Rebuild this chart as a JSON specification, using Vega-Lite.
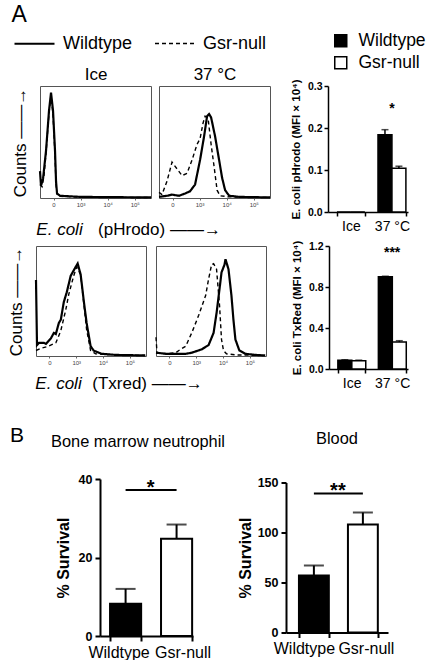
{
  "$schema": "https://vega.github.io/schema/vega-lite/v6.json",
  "padding": {"left": 6, "top": 3, "right": 0, "bottom": 0},
  "config": {
    "font": "Liberation Sans",
    "view": {"stroke": null},
    "axis": {"grid": false, "domainColor": "black", "tickColor": "black", "labelColor": "black", "titleColor": "black"},
    "title": {"color": "black"},
    "legend": {"labelColor": "black"}
  },
  "title": {"text": "A", "anchor": "start", "frame": "bounds", "fontSize": 23, "fontWeight": "normal", "dx": 5, "offset": -5},
  "datasets": {
    "hist": [
      {"panel": "pHrodo Ice", "genotype": "Wildtype", "ch": 1.5, "count": 0.24},
      {"panel": "pHrodo Ice", "genotype": "Wildtype", "ch": 1.537, "count": 0.11},
      {"panel": "pHrodo Ice", "genotype": "Wildtype", "ch": 1.611, "count": 0.17},
      {"panel": "pHrodo Ice", "genotype": "Wildtype", "ch": 1.722, "count": 0.42},
      {"panel": "pHrodo Ice", "genotype": "Wildtype", "ch": 1.833, "count": 0.78},
      {"panel": "pHrodo Ice", "genotype": "Wildtype", "ch": 1.907, "count": 0.94},
      {"panel": "pHrodo Ice", "genotype": "Wildtype", "ch": 1.981, "count": 0.78},
      {"panel": "pHrodo Ice", "genotype": "Wildtype", "ch": 2.055, "count": 0.42},
      {"panel": "pHrodo Ice", "genotype": "Wildtype", "ch": 2.092, "count": 0.15},
      {"panel": "pHrodo Ice", "genotype": "Wildtype", "ch": 2.129, "count": 0.04},
      {"panel": "pHrodo Ice", "genotype": "Wildtype", "ch": 2.24, "count": 0.02},
      {"panel": "pHrodo Ice", "genotype": "Wildtype", "ch": 2.98, "count": 0.01},
      {"panel": "pHrodo Ice", "genotype": "Wildtype", "ch": 5.6, "count": 0.005},
      {"panel": "pHrodo Ice", "genotype": "Gsr-null", "ch": 1.5, "count": 0.12},
      {"panel": "pHrodo Ice", "genotype": "Gsr-null", "ch": 1.574, "count": 0.10},
      {"panel": "pHrodo Ice", "genotype": "Gsr-null", "ch": 1.648, "count": 0.2},
      {"panel": "pHrodo Ice", "genotype": "Gsr-null", "ch": 1.722, "count": 0.4},
      {"panel": "pHrodo Ice", "genotype": "Gsr-null", "ch": 1.833, "count": 0.76},
      {"panel": "pHrodo Ice", "genotype": "Gsr-null", "ch": 1.907, "count": 0.91},
      {"panel": "pHrodo Ice", "genotype": "Gsr-null", "ch": 1.981, "count": 0.74},
      {"panel": "pHrodo Ice", "genotype": "Gsr-null", "ch": 2.055, "count": 0.38},
      {"panel": "pHrodo Ice", "genotype": "Gsr-null", "ch": 2.092, "count": 0.12},
      {"panel": "pHrodo Ice", "genotype": "Gsr-null", "ch": 2.129, "count": 0.03},
      {"panel": "pHrodo Ice", "genotype": "Gsr-null", "ch": 2.24, "count": 0.015},
      {"panel": "pHrodo Ice", "genotype": "Gsr-null", "ch": 2.98, "count": 0.008},
      {"panel": "pHrodo Ice", "genotype": "Gsr-null", "ch": 5.6, "count": 0.004},
      {"panel": "pHrodo 37", "genotype": "Wildtype", "ch": 1.5, "count": 0.01},
      {"panel": "pHrodo 37", "genotype": "Wildtype", "ch": 1.796, "count": 0.02},
      {"panel": "pHrodo 37", "genotype": "Wildtype", "ch": 1.981, "count": 0.03},
      {"panel": "pHrodo 37", "genotype": "Wildtype", "ch": 2.24, "count": 0.02},
      {"panel": "pHrodo 37", "genotype": "Wildtype", "ch": 2.462, "count": 0.04},
      {"panel": "pHrodo 37", "genotype": "Wildtype", "ch": 2.647, "count": 0.06},
      {"panel": "pHrodo 37", "genotype": "Wildtype", "ch": 2.832, "count": 0.12},
      {"panel": "pHrodo 37", "genotype": "Wildtype", "ch": 3.017, "count": 0.34},
      {"panel": "pHrodo 37", "genotype": "Wildtype", "ch": 3.165, "count": 0.55},
      {"panel": "pHrodo 37", "genotype": "Wildtype", "ch": 3.276, "count": 0.73},
      {"panel": "pHrodo 37", "genotype": "Wildtype", "ch": 3.35, "count": 0.75},
      {"panel": "pHrodo 37", "genotype": "Wildtype", "ch": 3.424, "count": 0.72},
      {"panel": "pHrodo 37", "genotype": "Wildtype", "ch": 3.572, "count": 0.55},
      {"panel": "pHrodo 37", "genotype": "Wildtype", "ch": 3.72, "count": 0.34},
      {"panel": "pHrodo 37", "genotype": "Wildtype", "ch": 3.831, "count": 0.18},
      {"panel": "pHrodo 37", "genotype": "Wildtype", "ch": 3.942, "count": 0.07},
      {"panel": "pHrodo 37", "genotype": "Wildtype", "ch": 4.09, "count": 0.02},
      {"panel": "pHrodo 37", "genotype": "Wildtype", "ch": 4.46, "count": 0.01},
      {"panel": "pHrodo 37", "genotype": "Wildtype", "ch": 5.6, "count": 0.005},
      {"panel": "pHrodo 37", "genotype": "Gsr-null", "ch": 1.5, "count": 0.05},
      {"panel": "pHrodo 37", "genotype": "Gsr-null", "ch": 1.611, "count": 0.03},
      {"panel": "pHrodo 37", "genotype": "Gsr-null", "ch": 1.796, "count": 0.15},
      {"panel": "pHrodo 37", "genotype": "Gsr-null", "ch": 1.981, "count": 0.32},
      {"panel": "pHrodo 37", "genotype": "Gsr-null", "ch": 2.166, "count": 0.26},
      {"panel": "pHrodo 37", "genotype": "Gsr-null", "ch": 2.351, "count": 0.20},
      {"panel": "pHrodo 37", "genotype": "Gsr-null", "ch": 2.536, "count": 0.22},
      {"panel": "pHrodo 37", "genotype": "Gsr-null", "ch": 2.721, "count": 0.34},
      {"panel": "pHrodo 37", "genotype": "Gsr-null", "ch": 2.906, "count": 0.48},
      {"panel": "pHrodo 37", "genotype": "Gsr-null", "ch": 3.017, "count": 0.53},
      {"panel": "pHrodo 37", "genotype": "Gsr-null", "ch": 3.128, "count": 0.67},
      {"panel": "pHrodo 37", "genotype": "Gsr-null", "ch": 3.202, "count": 0.73},
      {"panel": "pHrodo 37", "genotype": "Gsr-null", "ch": 3.313, "count": 0.71},
      {"panel": "pHrodo 37", "genotype": "Gsr-null", "ch": 3.424, "count": 0.48},
      {"panel": "pHrodo 37", "genotype": "Gsr-null", "ch": 3.535, "count": 0.28},
      {"panel": "pHrodo 37", "genotype": "Gsr-null", "ch": 3.646, "count": 0.07},
      {"panel": "pHrodo 37", "genotype": "Gsr-null", "ch": 3.757, "count": 0.02},
      {"panel": "pHrodo 37", "genotype": "Gsr-null", "ch": 4.09, "count": 0.01},
      {"panel": "pHrodo 37", "genotype": "Gsr-null", "ch": 5.6, "count": 0.005},
      {"panel": "Txred Ice", "genotype": "Wildtype", "ch": 1.5, "count": 0.69},
      {"panel": "Txred Ice", "genotype": "Wildtype", "ch": 1.537, "count": 0.10},
      {"panel": "Txred Ice", "genotype": "Wildtype", "ch": 1.611, "count": 0.12},
      {"panel": "Txred Ice", "genotype": "Wildtype", "ch": 1.796, "count": 0.12},
      {"panel": "Txred Ice", "genotype": "Wildtype", "ch": 1.87, "count": 0.11},
      {"panel": "Txred Ice", "genotype": "Wildtype", "ch": 1.981, "count": 0.14},
      {"panel": "Txred Ice", "genotype": "Wildtype", "ch": 2.055, "count": 0.16},
      {"panel": "Txred Ice", "genotype": "Wildtype", "ch": 2.166, "count": 0.21},
      {"panel": "Txred Ice", "genotype": "Wildtype", "ch": 2.24, "count": 0.20},
      {"panel": "Txred Ice", "genotype": "Wildtype", "ch": 2.351, "count": 0.30},
      {"panel": "Txred Ice", "genotype": "Wildtype", "ch": 2.425, "count": 0.33},
      {"panel": "Txred Ice", "genotype": "Wildtype", "ch": 2.536, "count": 0.49},
      {"panel": "Txred Ice", "genotype": "Wildtype", "ch": 2.647, "count": 0.58},
      {"panel": "Txred Ice", "genotype": "Wildtype", "ch": 2.795, "count": 0.73},
      {"panel": "Txred Ice", "genotype": "Wildtype", "ch": 2.98, "count": 0.81},
      {"panel": "Txred Ice", "genotype": "Wildtype", "ch": 3.054, "count": 0.84},
      {"panel": "Txred Ice", "genotype": "Wildtype", "ch": 3.165, "count": 0.74},
      {"panel": "Txred Ice", "genotype": "Wildtype", "ch": 3.276, "count": 0.51},
      {"panel": "Txred Ice", "genotype": "Wildtype", "ch": 3.387, "count": 0.30},
      {"panel": "Txred Ice", "genotype": "Wildtype", "ch": 3.535, "count": 0.09},
      {"panel": "Txred Ice", "genotype": "Wildtype", "ch": 3.646, "count": 0.05},
      {"panel": "Txred Ice", "genotype": "Wildtype", "ch": 3.942, "count": 0.02},
      {"panel": "Txred Ice", "genotype": "Wildtype", "ch": 4.46, "count": 0.01},
      {"panel": "Txred Ice", "genotype": "Wildtype", "ch": 5.57, "count": 0.005},
      {"panel": "Txred Ice", "genotype": "Gsr-null", "ch": 1.5, "count": 0.05},
      {"panel": "Txred Ice", "genotype": "Gsr-null", "ch": 1.685, "count": 0.07},
      {"panel": "Txred Ice", "genotype": "Gsr-null", "ch": 1.981, "count": 0.09},
      {"panel": "Txred Ice", "genotype": "Gsr-null", "ch": 2.24, "count": 0.12},
      {"panel": "Txred Ice", "genotype": "Gsr-null", "ch": 2.425, "count": 0.23},
      {"panel": "Txred Ice", "genotype": "Gsr-null", "ch": 2.61, "count": 0.42},
      {"panel": "Txred Ice", "genotype": "Gsr-null", "ch": 2.721, "count": 0.56},
      {"panel": "Txred Ice", "genotype": "Gsr-null", "ch": 2.906, "count": 0.73},
      {"panel": "Txred Ice", "genotype": "Gsr-null", "ch": 3.017, "count": 0.81},
      {"panel": "Txred Ice", "genotype": "Gsr-null", "ch": 3.165, "count": 0.74},
      {"panel": "Txred Ice", "genotype": "Gsr-null", "ch": 3.276, "count": 0.49},
      {"panel": "Txred Ice", "genotype": "Gsr-null", "ch": 3.387, "count": 0.24},
      {"panel": "Txred Ice", "genotype": "Gsr-null", "ch": 3.535, "count": 0.05},
      {"panel": "Txred Ice", "genotype": "Gsr-null", "ch": 3.72, "count": 0.02},
      {"panel": "Txred Ice", "genotype": "Gsr-null", "ch": 4.46, "count": 0.01},
      {"panel": "Txred Ice", "genotype": "Gsr-null", "ch": 5.57, "count": 0.005},
      {"panel": "Txred 37", "genotype": "Wildtype", "ch": 1.5, "count": 0.03},
      {"panel": "Txred 37", "genotype": "Wildtype", "ch": 1.87, "count": 0.02},
      {"panel": "Txred 37", "genotype": "Wildtype", "ch": 2.24, "count": 0.02},
      {"panel": "Txred 37", "genotype": "Wildtype", "ch": 2.61, "count": 0.02},
      {"panel": "Txred 37", "genotype": "Wildtype", "ch": 2.832, "count": 0.03},
      {"panel": "Txred 37", "genotype": "Wildtype", "ch": 3.202, "count": 0.06},
      {"panel": "Txred 37", "genotype": "Wildtype", "ch": 3.461, "count": 0.10},
      {"panel": "Txred 37", "genotype": "Wildtype", "ch": 3.646, "count": 0.21},
      {"panel": "Txred 37", "genotype": "Wildtype", "ch": 3.757, "count": 0.39},
      {"panel": "Txred 37", "genotype": "Wildtype", "ch": 3.868, "count": 0.61},
      {"panel": "Txred 37", "genotype": "Wildtype", "ch": 3.942, "count": 0.76},
      {"panel": "Txred 37", "genotype": "Wildtype", "ch": 4.053, "count": 0.83},
      {"panel": "Txred 37", "genotype": "Wildtype", "ch": 4.09, "count": 0.88},
      {"panel": "Txred 37", "genotype": "Wildtype", "ch": 4.201, "count": 0.79},
      {"panel": "Txred 37", "genotype": "Wildtype", "ch": 4.312, "count": 0.55},
      {"panel": "Txred 37", "genotype": "Wildtype", "ch": 4.386, "count": 0.33},
      {"panel": "Txred 37", "genotype": "Wildtype", "ch": 4.46, "count": 0.15},
      {"panel": "Txred 37", "genotype": "Wildtype", "ch": 4.608, "count": 0.05},
      {"panel": "Txred 37", "genotype": "Wildtype", "ch": 4.83, "count": 0.02},
      {"panel": "Txred 37", "genotype": "Wildtype", "ch": 5.2, "count": 0.01},
      {"panel": "Txred 37", "genotype": "Wildtype", "ch": 5.57, "count": 0.005},
      {"panel": "Txred 37", "genotype": "Gsr-null", "ch": 1.5, "count": 0.17},
      {"panel": "Txred 37", "genotype": "Gsr-null", "ch": 1.537, "count": 0.03},
      {"panel": "Txred 37", "genotype": "Gsr-null", "ch": 1.87, "count": 0.02},
      {"panel": "Txred 37", "genotype": "Gsr-null", "ch": 2.24, "count": 0.03},
      {"panel": "Txred 37", "genotype": "Gsr-null", "ch": 2.351, "count": 0.05},
      {"panel": "Txred 37", "genotype": "Gsr-null", "ch": 2.61, "count": 0.09},
      {"panel": "Txred 37", "genotype": "Gsr-null", "ch": 2.832, "count": 0.21},
      {"panel": "Txred 37", "genotype": "Gsr-null", "ch": 3.091, "count": 0.37},
      {"panel": "Txred 37", "genotype": "Gsr-null", "ch": 3.35, "count": 0.55},
      {"panel": "Txred 37", "genotype": "Gsr-null", "ch": 3.461, "count": 0.70},
      {"panel": "Txred 37", "genotype": "Gsr-null", "ch": 3.572, "count": 0.83},
      {"panel": "Txred 37", "genotype": "Gsr-null", "ch": 3.646, "count": 0.84},
      {"panel": "Txred 37", "genotype": "Gsr-null", "ch": 3.757, "count": 0.79},
      {"panel": "Txred 37", "genotype": "Gsr-null", "ch": 3.868, "count": 0.46},
      {"panel": "Txred 37", "genotype": "Gsr-null", "ch": 3.942, "count": 0.15},
      {"panel": "Txred 37", "genotype": "Gsr-null", "ch": 4.016, "count": 0.05},
      {"panel": "Txred 37", "genotype": "Gsr-null", "ch": 4.127, "count": 0.02},
      {"panel": "Txred 37", "genotype": "Gsr-null", "ch": 4.46, "count": 0.01},
      {"panel": "Txred 37", "genotype": "Gsr-null", "ch": 5.57, "count": 0.005}
    ],
    "bars": [
      {"assay": "pHrodo", "temp": "Ice", "genotype": "Wildtype", "mean": 0, "upper": 0},
      {"assay": "pHrodo", "temp": "Ice", "genotype": "Gsr-null", "mean": 0, "upper": 0},
      {"assay": "pHrodo", "temp": "37 °C", "genotype": "Wildtype", "mean": 0.184, "upper": 0.196},
      {"assay": "pHrodo", "temp": "37 °C", "genotype": "Gsr-null", "mean": 0.104, "upper": 0.109},
      {"assay": "TxRed", "temp": "Ice", "genotype": "Wildtype", "mean": 0.085, "upper": 0.09},
      {"assay": "TxRed", "temp": "Ice", "genotype": "Gsr-null", "mean": 0.08, "upper": 0.086},
      {"assay": "TxRed", "temp": "37 °C", "genotype": "Wildtype", "mean": 0.9, "upper": 0.905},
      {"assay": "TxRed", "temp": "37 °C", "genotype": "Gsr-null", "mean": 0.263, "upper": 0.276}
    ],
    "survival": [
      {"source": "BM", "genotype": "Wildtype", "mean": 8.2, "upper": 12.0},
      {"source": "BM", "genotype": "Gsr-null", "mean": 24.8, "upper": 28.4},
      {"source": "Blood", "genotype": "Wildtype", "mean": 57, "upper": 67},
      {"source": "Blood", "genotype": "Gsr-null", "mean": 108, "upper": 120}
    ],
    "signif": [
      {"source": "BM", "from": "Wildtype", "to": "Gsr-null", "line": 37.2, "star": 36.2, "label": "*"},
      {"source": "Blood", "from": "Wildtype", "to": "Gsr-null", "line": 139, "star": 136, "label": "**"}
    ]
  },
  "spacing": 32,
  "resolve": {"scale": {"fill": "independent", "strokeDash": "independent", "strokeWidth": "independent"}},
  "vconcat": [
    {
      "spacing": 2,
      "resolve": {"scale": {"fill": "independent", "strokeDash": "independent", "strokeWidth": "independent"}},
      "vconcat": [
        {
          "bounds": "flush",
          "spacing": 0,
          "resolve": {"scale": {"fill": "independent", "strokeDash": "independent", "strokeWidth": "independent"}},
          "hconcat": [
            {
              "width": 4, "height": 1,
              "data": {"values": []},
              "mark": "point"
            },
            {
              "bounds": "flush",
              "spacing": 8,
              "resolve": {"scale": {"fill": "independent", "strokeDash": "independent", "strokeWidth": "independent"}},
              "hconcat": [
                {
                  "width": 111, "height": 112,
                  "view": {"stroke": "#555", "strokeWidth": 1},
                  "data": {"name": "hist"},
                  "transform": [{"filter": "datum.panel == 'pHrodo Ice'"}],
                  "layer": [
                    {
                      "mark": {"type": "line", "color": "black"},
                      "encoding": {
                        "x": {"field": "ch", "type": "quantitative", "scale": {"domain": [1.5, 5.6], "nice": false, "zero": false},
                          "axis": {"values": [2, 3, 4, 5], "labelExpr": "datum.value == 2 ? '0' : datum.value == 3 ? '10³' : datum.value == 4 ? '10⁴' : '10⁵'", "labelFontSize": 6, "labelColor": "#444", "labelPadding": 1, "tickSize": 2, "tickColor": "#666", "domain": false,
                            "title": "E. coli", "titleFontStyle": "italic", "titleFontSize": 17, "titleFontWeight": "normal", "titleAlign": "center", "titleX": 19, "titleY": 36, "titleBaseline": "alphabetic"}},
                        "y": {"field": "count", "type": "quantitative", "scale": {"domain": [0, 1], "nice": false},
                          "axis": {"title": "Counts  ——→", "labels": false, "ticks": false, "domain": false, "titleFontSize": 17, "titleFontWeight": "normal", "titlePadding": 11}},
                        "strokeDash": {"field": "genotype", "type": "nominal", "scale": {"domain": ["Wildtype", "Gsr-null"], "range": [[1, 0], [4, 3]]},
                          "legend": {"orient": "none", "legendX": -27, "legendY": -64, "direction": "horizontal", "title": null, "symbolType": "stroke", "symbolSize": 1600, "symbolStrokeWidth": 2, "symbolStrokeColor": "black", "labelFontSize": 18, "labelOffset": 7, "columnPadding": 19,
                            "encode": {"symbols": {"update": {"strokeDash": {"signal": "datum.value === 'Gsr-null' ? [9, 5] : [1, 0]"}}}}}},
                        "strokeWidth": {"field": "genotype", "type": "nominal", "scale": {"domain": ["Wildtype", "Gsr-null"], "range": [2.2, 1.4]}, "legend": null}
                      }
                    },
                    {
                      "mark": {"type": "point", "opacity": 0},
                      "encoding": {
                        "x": {"field": "ch", "type": "quantitative", "axis": {"orient": "top", "title": "Ice", "labels": false, "ticks": false, "domain": false, "titleFontSize": 17, "titleFontWeight": "normal", "titleY": -7, "titleBaseline": "alphabetic"}}
                      }
                    }
                  ],
                  "resolve": {"axis": {"x": "independent"}}
                },
                {
                  "width": 111, "height": 112,
                  "view": {"stroke": "#555", "strokeWidth": 1},
                  "data": {"name": "hist"},
                  "transform": [{"filter": "datum.panel == 'pHrodo 37'"}],
                  "layer": [
                    {
                      "mark": {"type": "line", "color": "black"},
                      "encoding": {
                        "x": {"field": "ch", "type": "quantitative", "scale": {"domain": [1.5, 5.6], "nice": false, "zero": false},
                          "axis": {"values": [2, 3, 4, 5], "labelExpr": "datum.value == 2 ? '0' : datum.value == 3 ? '10³' : datum.value == 4 ? '10⁴' : '10⁵'", "labelFontSize": 6, "labelColor": "#444", "labelPadding": 1, "tickSize": 2, "tickColor": "#666", "domain": false,
                            "title": "(pHrodo)    ——→", "titleFontSize": 17, "titleFontWeight": "normal", "titleAlign": "center", "titleX": 0, "titleY": 36, "titleBaseline": "alphabetic"}},
                        "y": {"field": "count", "type": "quantitative", "scale": {"domain": [0, 1], "nice": false}, "axis": null},
                        "strokeDash": {"field": "genotype", "type": "nominal", "scale": {"domain": ["Wildtype", "Gsr-null"], "range": [[1, 0], [4, 3]]}, "legend": null},
                        "strokeWidth": {"field": "genotype", "type": "nominal", "scale": {"domain": ["Wildtype", "Gsr-null"], "range": [2.2, 1.4]}, "legend": null}
                      }
                    },
                    {
                      "mark": {"type": "point", "opacity": 0},
                      "encoding": {
                        "x": {"field": "ch", "type": "quantitative", "axis": {"orient": "top", "title": "37 °C", "labels": false, "ticks": false, "domain": false, "titleFontSize": 17, "titleFontWeight": "normal", "titleY": -7, "titleBaseline": "alphabetic"}}
                      }
                    }
                  ],
                  "resolve": {"axis": {"x": "independent"}}
                },
                {
                  "width": 42, "height": 1,
                  "data": {"values": []},
                  "mark": "point"
                },
                {
                  "width": 80, "height": 126,
                  "data": {"name": "bars"},
                  "transform": [{"filter": "datum.assay == 'pHrodo'"}],
                  "encoding": {
                    "x": {"field": "temp", "type": "nominal", "sort": ["Ice", "37 °C"], "scale": {"paddingInner": 0.32, "paddingOuter": 0.135, "align": 0.81},
                      "axis": {"title": null, "labelAngle": 0, "labelFontSize": 14, "tickBand": "extent", "tickSize": 4, "tickWidth": 1.5, "domainWidth": 1.5, "labelPadding": 3}}
                  },
                  "layer": [
                    {
                      "mark": {"type": "bar", "stroke": "black", "strokeWidth": 1.5},
                      "encoding": {
                        "xOffset": {"field": "genotype", "type": "nominal", "sort": ["Wildtype", "Gsr-null"]},
                        "y": {"field": "mean", "type": "quantitative", "title": "E. coli pHrodo (MFI × 10⁴)", "scale": {"domain": [0, 0.3], "nice": false},
                          "axis": {"values": [0, 0.1, 0.2, 0.3], "format": ".1f", "labelFontSize": 10.5, "labelFontWeight": "bold", "tickSize": 4, "tickWidth": 1.5, "domainWidth": 1.5, "labelPadding": 2, "titleFontSize": 11.5, "titleFontWeight": "bold", "titlePadding": 6}},
                        "fill": {"field": "genotype", "type": "nominal", "scale": {"domain": ["Wildtype", "Gsr-null"], "range": ["black", "white"]},
                          "legend": {"orient": "none", "legendX": 4, "legendY": -54, "title": null, "symbolType": "square", "symbolSize": 144, "symbolStrokeColor": "black", "symbolStrokeWidth": 1.5, "labelFontSize": 17.5, "labelOffset": 9, "rowPadding": 3,
                            "encode": {"symbols": {"update": {"stroke": {"value": "black"}, "strokeWidth": {"value": 1.5}}}}}}
                      }
                    },
                    {
                      "transform": [{"filter": "datum.upper > datum.mean"}],
                      "mark": {"type": "rule", "strokeWidth": 1.5, "color": "black"},
                      "encoding": {
                        "xOffset": {"field": "genotype", "type": "nominal", "sort": ["Wildtype", "Gsr-null"]},
                        "y": {"field": "mean", "type": "quantitative", "title": "E. coli pHrodo (MFI × 10⁴)"},
                        "y2": {"field": "upper"}
                      }
                    },
                    {
                      "transform": [{"filter": "datum.upper > datum.mean"}],
                      "mark": {"type": "tick", "thickness": 1.5, "size": 7, "color": "black"},
                      "encoding": {
                        "xOffset": {"field": "genotype", "type": "nominal", "sort": ["Wildtype", "Gsr-null"]},
                        "y": {"field": "upper", "type": "quantitative", "title": "E. coli pHrodo (MFI × 10⁴)"}
                      }
                    },
                    {
                      "data": {"values": [{"temp": "37 °C", "pos": 0.236, "label": "*"}]},
                      "mark": {"type": "text", "fontSize": 14, "fontWeight": "bold", "baseline": "alphabetic", "color": "black"},
                      "encoding": {
                        "y": {"field": "pos", "type": "quantitative", "title": "E. coli pHrodo (MFI × 10⁴)"},
                        "text": {"field": "label"}
                      }
                    }
                  ]
                }
              ]
            }
          ]
        },
        {
          "bounds": "flush",
          "spacing": 10,
          "resolve": {"scale": {"fill": "independent", "strokeDash": "independent", "strokeWidth": "independent"}},
          "hconcat": [
            {
              "width": 110, "height": 110,
              "view": {"stroke": "#555", "strokeWidth": 1},
              "data": {"name": "hist"},
              "transform": [{"filter": "datum.panel == 'Txred Ice'"}],
              "mark": {"type": "line", "color": "black"},
              "encoding": {
                "x": {"field": "ch", "type": "quantitative", "scale": {"domain": [1.5, 5.6], "nice": false, "zero": false},
                  "axis": {"values": [2, 3, 4, 5], "labelExpr": "datum.value == 2 ? '0' : datum.value == 3 ? '10³' : datum.value == 4 ? '10⁴' : '10⁵'", "labelFontSize": 6, "labelColor": "#444", "labelPadding": 1, "tickSize": 2, "tickColor": "#666", "domain": false,
                    "title": "E. coli", "titleFontStyle": "italic", "titleFontSize": 17, "titleFontWeight": "normal", "titleAlign": "center", "titleX": 22, "titleY": 32, "titleBaseline": "alphabetic"}},
                "y": {"field": "count", "type": "quantitative", "scale": {"domain": [0, 1], "nice": false},
                  "axis": {"title": "Counts  ——→", "labels": false, "ticks": false, "domain": false, "titleFontSize": 17, "titleFontWeight": "normal", "titlePadding": 11}},
                "strokeDash": {"field": "genotype", "type": "nominal", "scale": {"domain": ["Wildtype", "Gsr-null"], "range": [[1, 0], [4, 3]]}, "legend": null},
                "strokeWidth": {"field": "genotype", "type": "nominal", "scale": {"domain": ["Wildtype", "Gsr-null"], "range": [2.2, 1.4]}, "legend": null}
              }
            },
            {
              "width": 110, "height": 110,
              "view": {"stroke": "#555", "strokeWidth": 1},
              "data": {"name": "hist"},
              "transform": [{"filter": "datum.panel == 'Txred 37'"}],
              "mark": {"type": "line", "color": "black"},
              "encoding": {
                "x": {"field": "ch", "type": "quantitative", "scale": {"domain": [1.5, 5.6], "nice": false, "zero": false},
                  "axis": {"values": [2, 3, 4, 5], "labelExpr": "datum.value == 2 ? '0' : datum.value == 3 ? '10³' : datum.value == 4 ? '10⁴' : '10⁵'", "labelFontSize": 6, "labelColor": "#444", "labelPadding": 1, "tickSize": 2, "tickColor": "#666", "domain": false,
                    "title": "(Txred)     ——→", "titleFontSize": 17, "titleFontWeight": "normal", "titleAlign": "center", "titleX": -9, "titleY": 32, "titleBaseline": "alphabetic"}},
                "y": {"field": "count", "type": "quantitative", "scale": {"domain": [0, 1], "nice": false}, "axis": null},
                "strokeDash": {"field": "genotype", "type": "nominal", "scale": {"domain": ["Wildtype", "Gsr-null"], "range": [[1, 0], [4, 3]]}, "legend": null},
                "strokeWidth": {"field": "genotype", "type": "nominal", "scale": {"domain": ["Wildtype", "Gsr-null"], "range": [2.2, 1.4]}, "legend": null}
              }
            },
            {
              "width": 43, "height": 1,
              "data": {"values": []},
              "mark": "point"
            },
            {
              "width": 79, "height": 123,
              "data": {"name": "bars"},
              "transform": [{"filter": "datum.assay == 'TxRed'"}],
              "encoding": {
                "x": {"field": "temp", "type": "nominal", "sort": ["Ice", "37 °C"], "scale": {"paddingInner": 0.32, "paddingOuter": 0.135, "align": 0.81},
                  "axis": {"title": null, "labelAngle": 0, "labelFontSize": 14, "tickBand": "extent", "tickSize": 4, "tickWidth": 1.5, "domainWidth": 1.5, "labelPadding": 3}}
              },
              "layer": [
                {
                  "mark": {"type": "bar", "stroke": "black", "strokeWidth": 1.5},
                  "encoding": {
                    "xOffset": {"field": "genotype", "type": "nominal", "sort": ["Wildtype", "Gsr-null"]},
                    "y": {"field": "mean", "type": "quantitative", "title": "E. coli TxRed (MFI × 10⁴)", "scale": {"domain": [0, 1.2], "nice": false},
                      "axis": {"values": [0, 0.4, 0.8, 1.2], "format": ".1f", "labelFontSize": 10.5, "labelFontWeight": "bold", "tickSize": 4, "tickWidth": 1.5, "domainWidth": 1.5, "labelPadding": 2, "titleFontSize": 11.5, "titleFontWeight": "bold", "titlePadding": 6}},
                    "fill": {"field": "genotype", "type": "nominal", "scale": {"domain": ["Wildtype", "Gsr-null"], "range": ["black", "white"]}, "legend": null}
                  }
                },
                {
                  "transform": [{"filter": "datum.upper > datum.mean"}],
                  "mark": {"type": "rule", "strokeWidth": 1.5, "color": "black"},
                  "encoding": {
                    "xOffset": {"field": "genotype", "type": "nominal", "sort": ["Wildtype", "Gsr-null"]},
                    "y": {"field": "mean", "type": "quantitative", "title": "E. coli TxRed (MFI × 10⁴)"},
                    "y2": {"field": "upper"}
                  }
                },
                {
                  "transform": [{"filter": "datum.upper > datum.mean"}],
                  "mark": {"type": "tick", "thickness": 1.5, "size": 7, "color": "black"},
                  "encoding": {
                    "xOffset": {"field": "genotype", "type": "nominal", "sort": ["Wildtype", "Gsr-null"]},
                    "y": {"field": "upper", "type": "quantitative", "title": "E. coli TxRed (MFI × 10⁴)"}
                  }
                },
                {
                  "data": {"values": [{"temp": "37 °C", "pos": 1.09, "label": "***"}]},
                  "mark": {"type": "text", "fontSize": 14, "fontWeight": "bold", "baseline": "alphabetic", "color": "black"},
                  "encoding": {
                    "y": {"field": "pos", "type": "quantitative", "title": "E. coli TxRed (MFI × 10⁴)"},
                    "text": {"field": "label"}
                  }
                }
              ]
            }
          ]
        }
      ]
    },
    {
      "bounds": "flush",
      "spacing": 10,
      "resolve": {"scale": {"fill": "independent", "strokeDash": "independent", "strokeWidth": "independent"}},
      "hconcat": [
        {
          "width": 54, "height": 1,
          "data": {"values": []},
          "mark": "point"
        },
        {
          "title": {"text": "B", "anchor": "start", "frame": "bounds", "fontSize": 21, "fontWeight": "normal", "dx": -41, "offset": -14.5},
          "bounds": "flush",
          "center": true,
          "spacing": 93,
          "resolve": {"scale": {"fill": "independent", "strokeDash": "independent", "strokeWidth": "independent"}},
          "hconcat": [
            {
              "width": 93, "height": 157,
              "title": {"text": "Bone marrow neutrophil", "fontSize": 16.4, "fontWeight": "normal", "anchor": "middle", "frame": "group", "dx": -8.5, "offset": 23},
              "encoding": {
                "x": {"field": "genotype", "type": "nominal", "sort": ["Wildtype", "Gsr-null"], "scale": {"domain": ["Wildtype", "Gsr-null"], "paddingInner": 0.39, "paddingOuter": 0.107, "align": 0.92},
                  "axis": {"title": null, "labelAngle": 0, "labelFontSize": 16, "labelOffset": {"condition": {"test": "datum.value == 'Wildtype'", "value": -7}, "value": 6}, "tickBand": "extent", "tickSize": 5, "tickWidth": 2, "domainWidth": 2, "labelPadding": 3}}
              },
              "layer": [
                {
                  "data": {"name": "survival"},
                  "transform": [{"filter": "datum.source == 'BM'"}],
                  "mark": {"type": "bar", "stroke": "black", "strokeWidth": 2},
                  "encoding": {
                    "y": {"field": "mean", "type": "quantitative", "title": "% Survival", "scale": {"domain": [0, 40], "nice": false},
                      "axis": {"values": [0, 10, 20, 30, 40], "labelFontSize": 12.5, "labelFontWeight": "bold", "tickSize": 5, "tickWidth": 2, "domainWidth": 2, "labelPadding": 3, "titleFontSize": 16, "titleFontWeight": "bold", "titlePadding": 7}},
                    "fill": {"field": "genotype", "type": "nominal", "scale": {"domain": ["Wildtype", "Gsr-null"], "range": ["black", "white"]}, "legend": null}
                  }
                },
                {
                  "data": {"name": "survival"},
                  "transform": [{"filter": "datum.source == 'BM'"}],
                  "mark": {"type": "rule", "strokeWidth": 2, "color": "black"},
                  "encoding": {"y": {"field": "mean", "type": "quantitative", "title": "% Survival"}, "y2": {"field": "upper"}}
                },
                {
                  "data": {"name": "survival"},
                  "transform": [{"filter": "datum.source == 'BM'"}],
                  "mark": {"type": "tick", "thickness": 2, "size": 20, "color": "black"},
                  "encoding": {"y": {"field": "upper", "type": "quantitative", "title": "% Survival"}}
                },
                {
                  "data": {"name": "signif"},
                  "transform": [{"filter": "datum.source == 'BM'"}],
                  "mark": {"type": "rule", "strokeWidth": 2, "color": "black"},
                  "encoding": {"x": {"field": "from", "type": "nominal"}, "x2": {"field": "to"}, "y": {"field": "line", "type": "quantitative", "title": "% Survival"}}
                },
                {
                  "data": {"name": "signif"},
                  "transform": [{"filter": "datum.source == 'BM'"}],
                  "mark": {"type": "text", "fontSize": 20, "fontWeight": "bold", "baseline": "alphabetic", "dx": 25, "color": "black"},
                  "encoding": {"x": {"field": "from", "type": "nominal"}, "y": {"field": "star", "type": "quantitative", "title": "% Survival"}, "text": {"field": "label"}}
                }
              ]
            },
            {
              "width": 102, "height": 150,
              "title": {"text": "Blood", "fontSize": 16.4, "fontWeight": "normal", "anchor": "middle", "frame": "group", "offset": 29},
              "encoding": {
                "x": {"field": "genotype", "type": "nominal", "sort": ["Wildtype", "Gsr-null"], "scale": {"domain": ["Wildtype", "Gsr-null"], "paddingInner": 0.39, "paddingOuter": 0.236, "align": 0.56},
                  "axis": {"title": null, "labelAngle": 0, "labelFontSize": 16, "labelOffset": {"condition": {"test": "datum.value == 'Wildtype'", "value": -10}, "value": 3}, "tickBand": "extent", "tickSize": 5, "tickWidth": 2, "domainWidth": 2, "labelPadding": 3}}
              },
              "layer": [
                {
                  "data": {"name": "survival"},
                  "transform": [{"filter": "datum.source == 'Blood'"}],
                  "mark": {"type": "bar", "stroke": "black", "strokeWidth": 2},
                  "encoding": {
                    "y": {"field": "mean", "type": "quantitative", "title": "% Survival", "scale": {"domain": [0, 150], "nice": false},
                      "axis": {"values": [0, 50, 100, 150], "labelFontSize": 12.5, "labelFontWeight": "bold", "tickSize": 5, "tickWidth": 2, "domainWidth": 2, "labelPadding": 3, "titleFontSize": 16, "titleFontWeight": "bold", "titlePadding": 4}},
                    "fill": {"field": "genotype", "type": "nominal", "scale": {"domain": ["Wildtype", "Gsr-null"], "range": ["black", "white"]}, "legend": null}
                  }
                },
                {
                  "data": {"name": "survival"},
                  "transform": [{"filter": "datum.source == 'Blood'"}],
                  "mark": {"type": "rule", "strokeWidth": 2, "color": "black"},
                  "encoding": {"y": {"field": "mean", "type": "quantitative", "title": "% Survival"}, "y2": {"field": "upper"}}
                },
                {
                  "data": {"name": "survival"},
                  "transform": [{"filter": "datum.source == 'Blood'"}],
                  "mark": {"type": "tick", "thickness": 2, "size": 20, "color": "black"},
                  "encoding": {"y": {"field": "upper", "type": "quantitative", "title": "% Survival"}}
                },
                {
                  "data": {"name": "signif"},
                  "transform": [{"filter": "datum.source == 'Blood'"}],
                  "mark": {"type": "rule", "strokeWidth": 2, "color": "black"},
                  "encoding": {"x": {"field": "from", "type": "nominal"}, "x2": {"field": "to"}, "y": {"field": "line", "type": "quantitative", "title": "% Survival"}}
                },
                {
                  "data": {"name": "signif"},
                  "transform": [{"filter": "datum.source == 'Blood'"}],
                  "mark": {"type": "text", "fontSize": 20, "fontWeight": "bold", "baseline": "alphabetic", "dx": 24, "color": "black"},
                  "encoding": {"x": {"field": "from", "type": "nominal"}, "y": {"field": "star", "type": "quantitative", "title": "% Survival"}, "text": {"field": "label"}}
                }
              ]
            }
          ]
        }
      ]
    }
  ]
}
